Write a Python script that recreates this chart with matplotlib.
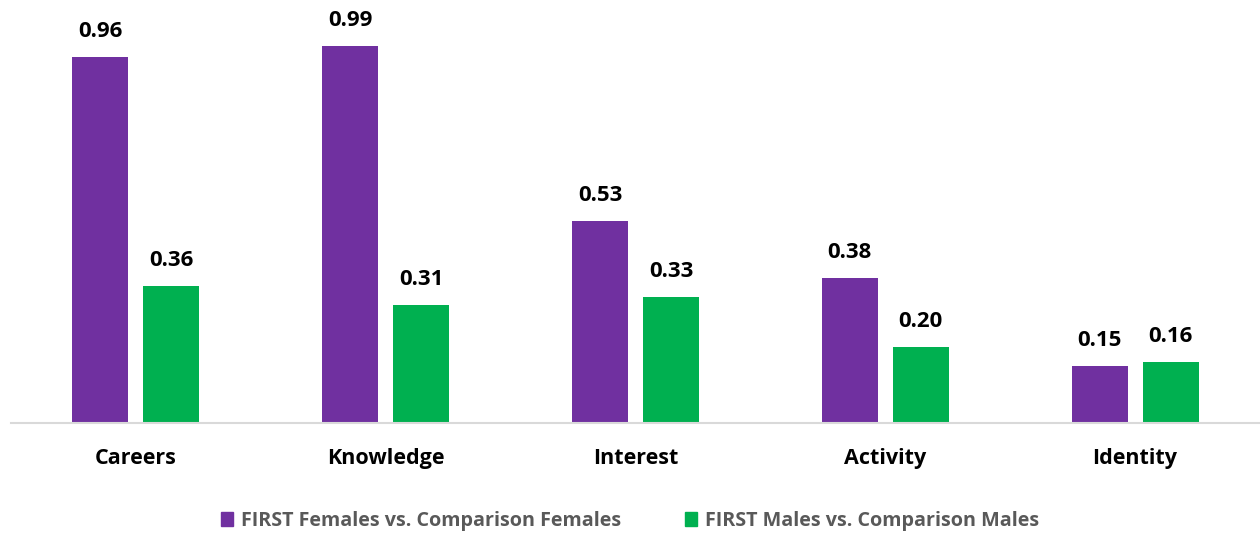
import numpy as np
import matplotlib
matplotlib.use("Agg")
import matplotlib.pyplot as plt
from matplotlib.patches import Patch

categories = ["Careers", "Knowledge", "Interest", "Activity", "Identity"]
females = [0.96, 0.99, 0.53, 0.38, 0.15]
males = [0.36, 0.31, 0.33, 0.20, 0.16]
series_names = ["FIRST Females vs. Comparison Females", "FIRST Males vs. Comparison Males"]

purple = "#7030A0"
green = "#00B050"

plt.rcParams["font.family"] = ["Open Sans", "DejaVu Sans"]

fig = plt.figure(figsize=(12.6, 5.34), dpi=100)
ax = fig.add_axes([11 / 1260, 111 / 534, 1249 / 1260, 423 / 534])

x = np.arange(len(categories))
w = 0.224
off = 0.142
b1 = ax.bar(x - off, females, w, color=purple)
b2 = ax.bar(x + off, males, w, color=green)

for bars, vals in ((b1, females), (b2, males)):
    for rect, v in zip(bars, vals):
        ax.annotate(f"{v:.2f}", (rect.get_x() + rect.get_width() / 2, v),
                    xytext=(0, 11), textcoords="offset points",
                    ha="center", va="bottom", fontsize=16, fontweight="bold", color="black")

ax.set_xlim(-0.5, len(categories) - 0.5)
ax.set_ylim(0, 423 / 381)
ax.set_xticks(x)
ax.set_xticklabels(categories, fontsize=15.5, fontweight="bold")
ax.tick_params(axis="x", length=0, pad=18)
ax.set_yticks([])
for s in ("top", "right", "left"):
    ax.spines[s].set_visible(False)
ax.spines["bottom"].set_color("#D9D9D9")
ax.spines["bottom"].set_linewidth(1.5)

handles = [Patch(color=purple), Patch(color=green)]
leg = fig.legend(handles, series_names, loc="center", bbox_to_anchor=(0.5, 1 - 521 / 534),
                 ncol=2, frameon=False, prop={"size": 14.2, "weight": "bold"},
                 handlelength=0.65, handleheight=0.65, columnspacing=3.2, handletextpad=0.4)
for t in leg.get_texts():
    t.set_color("#595959")

fig.savefig("out.png", dpi=100)
